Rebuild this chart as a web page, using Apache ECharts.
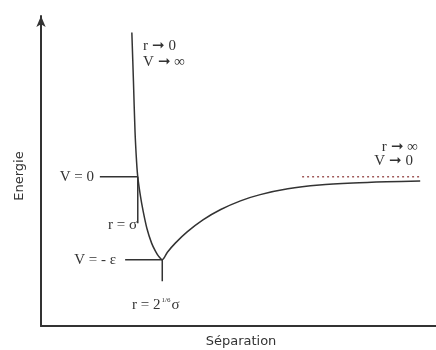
<!DOCTYPE html>
<html>
<head>
<meta charset="utf-8">
<script src="https://cdn.jsdelivr.net/npm/echarts@6/dist/echarts.min.js"></script>
<style>
  html, body { margin: 0; padding: 0; background: #fff; }
  #chart { width: 436px; height: 350px; }
</style>
</head>
<body>
<div id="chart"></div>
<script>
// courbe de potentiel (unites arbitraires, epsilon = 1)
var sepX = [2.30, 2.34, 2.38, 2.42, 2.45, 2.52, 2.58, 2.68, 2.80, 2.90, 2.98, 3.07, 3.20, 3.40, 3.70, 4.10, 4.55, 5.05, 5.55, 6.25, 7.05, 7.90, 8.75, 9.60]
var energieY = [1.74, 1.16, 0.55, 0.18, 0, -0.24, -0.40, -0.62, -0.80, -0.90, -0.96, -1.00, -0.91, -0.80, -0.665, -0.52, -0.395, -0.29, -0.215, -0.145, -0.10, -0.075, -0.06, -0.05]

// reperes
var v0Line = [[1.49, 0], [2.45, 0]]
var sigmaTick = [[2.45, 0], [2.45, -0.56]]
var epsLine = [[2.13, -1], [3.07, -1]]
var rminTick = [[3.07, -1], [3.07, -1.26]]
var asymptote = [[6.61, 0], [9.60, 0]]

var curve = sepX.map(function (x, i) { return [x, energieY[i]] })

var serif = '15px "Liberation Serif"'
var ink = '#333'

function guide(data) {
  return {
    type: 'line', data: data, symbol: 'none', silent: true,
    lineStyle: { color: ink, width: 1.5 }
  }
}

function note(x, y, text, align) {
  return {
    type: 'text', x: x, y: y,
    style: { text: text, font: serif, fill: ink, align: align, verticalAlign: 'middle' }
  }
}

var myChart = echarts.init(document.getElementById('chart'))
myChart.setOption({
  animation: false,
  grid: { left: 41, right: 0, top: 16, bottom: 24 },
  xAxis: {
    type: 'value', min: 0, max: 10,
    axisLine: { onZero: false, lineStyle: { color: ink, width: 2 } },
    axisTick: { show: false }, axisLabel: { show: false }, splitLine: { show: false }
  },
  yAxis: {
    type: 'value', min: -1.8, max: 1.94,
    axisLine: {
      show: true, onZero: false,
      symbol: ['none', 'arrow'], symbolSize: [7, 11],
      lineStyle: { color: ink, width: 2 }
    },
    axisTick: { show: false }, axisLabel: { show: false }, splitLine: { show: false }
  },
  series: [
    {
      type: 'line', data: curve, symbol: 'none', smooth: 0.3,
      lineStyle: { color: ink, width: 1.5 }
    },
    guide(v0Line),
    guide(sigmaTick),
    guide(epsLine),
    guide(rminTick),
    {
      type: 'line', data: asymptote, symbol: 'none', silent: true,
      lineStyle: { color: '#a05a5a', width: 1.5, type: [2, 3] }
    }
  ],
  graphic: [
    { type: 'text', x: 20, y: 176, rotation: Math.PI / 2,
      style: { text: 'Energie', font: '13px "DejaVu Sans"', fill: ink, align: 'center', verticalAlign: 'middle' } },
    { type: 'text', x: 241, y: 342,
      style: { text: 'Séparation', font: '13px "DejaVu Sans"', fill: ink, align: 'center', verticalAlign: 'middle' } },
    note(94, 177, 'V = 0', 'right'),
    note(137, 225, 'r = σ', 'right'),
    note(116, 260, 'V = - ε', 'right'),
    { type: 'text', x: 132, y: 305,
      style: {
        text: '{a|r = 2}{b|1/6}{a|σ}', align: 'left', verticalAlign: 'middle',
        rich: {
          a: { font: serif, fill: ink },
          b: { font: '7px "Liberation Serif"', fill: ink, verticalAlign: 'top', padding: [0, 1, 10, 1] }
        }
      } },
    note(143, 46, 'r ➞ 0', 'left'),
    note(143, 62, 'V ➞ ∞', 'left'),
    note(418, 147, 'r ➞ ∞', 'right'),
    note(413, 161, 'V ➞ 0', 'right')
  ]
})
</script>
</body>
</html>
